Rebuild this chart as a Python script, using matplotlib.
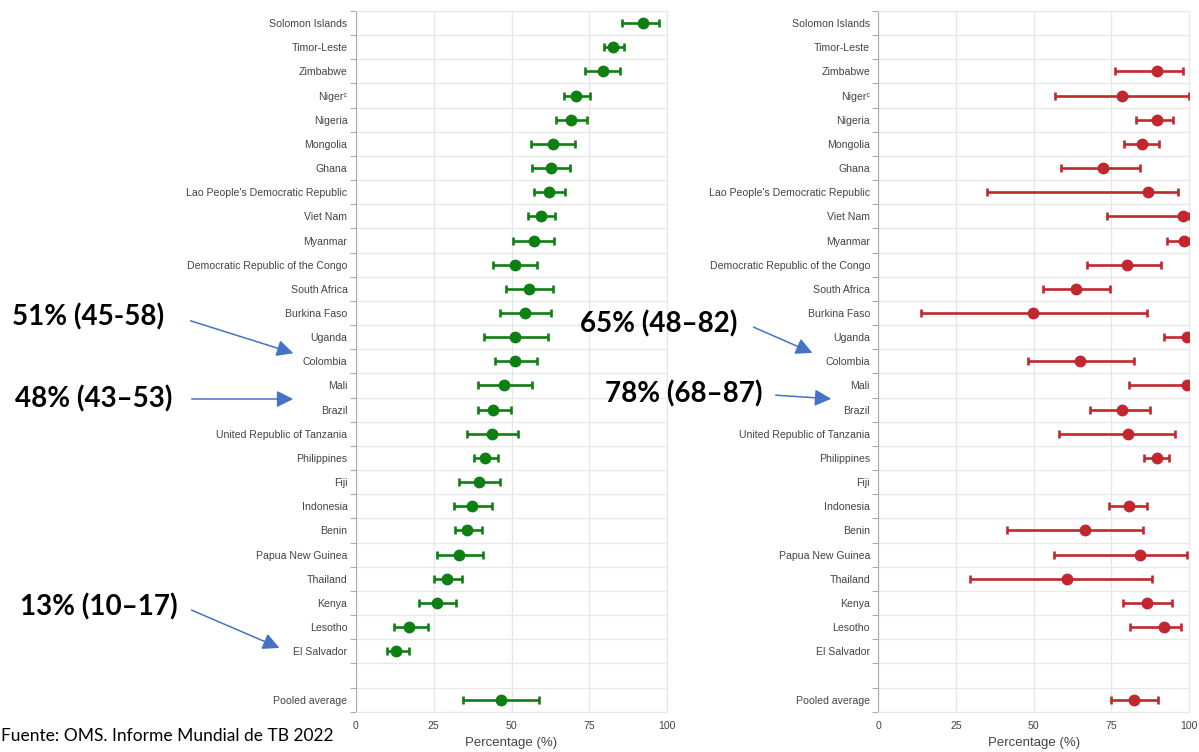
import numpy as np
import matplotlib.pyplot as plt
from matplotlib.ticker import FixedLocator
from matplotlib.patches import FancyArrowPatch

nan = np.nan

countries = ["Solomon Islands", "Timor-Leste", "Zimbabwe", "Niger\u1d9c", "Nigeria", "Mongolia",
             "Ghana", "Lao People's Democratic Republic", "Viet Nam", "Myanmar",
             "Democratic Republic of the Congo", "South Africa", "Burkina Faso", "Uganda",
             "Colombia", "Mali", "Brazil", "United Republic of Tanzania", "Philippines", "Fiji",
             "Indonesia", "Benin", "Papua New Guinea", "Thailand", "Kenya", "Lesotho",
             "El Salvador", "", "Pooled average"]

# left panel (green)
g_val = [92.1, 82.7, 79.3, 70.7, 69.1, 63.2, 62.7, 62.1, 59.5, 57.2, 51.1, 55.7, 54.3, 51.1,
         51.1, 47.6, 44.2, 43.6, 41.5, 39.6, 37.4, 35.8, 33.2, 29.2, 26.0, 17.1, 12.9, nan, 46.5]
g_lo = [85.4, 79.8, 73.6, 66.8, 64.2, 56.3, 56.5, 57.3, 55.2, 50.6, 44.2, 48.1, 46.3, 41.0,
        44.7, 39.1, 39.1, 35.6, 38.1, 33.2, 31.5, 31.9, 26.2, 25.1, 20.4, 12.4, 9.9, nan, 34.3]
g_hi = [97.3, 86.2, 84.8, 75.2, 74.1, 70.2, 68.8, 67.2, 64.0, 63.7, 58.3, 63.4, 62.6, 61.6,
        58.1, 56.7, 49.7, 52.2, 45.5, 46.3, 43.8, 40.4, 40.7, 34.2, 32.1, 23.1, 17.2, nan, 58.9]

# right panel (red)
r_val = [nan, nan, 89.6, 78.5, 89.6, 84.8, 72.4, 86.9, 98.2, 98.4, 80.2, 63.8, 49.9, 99.5,
         64.9, 99.5, 78.3, 80.3, 89.6, nan, 80.7, 66.5, 84.4, 60.9, 86.4, 92.0, nan, nan, 82.3]
r_lo = [nan, nan, 76.2, 56.9, 82.9, 79.1, 58.7, 34.9, 73.5, 93.1, 67.1, 53.1, 13.6, 92.0,
        48.3, 80.8, 68.1, 58.3, 85.5, nan, 74.2, 41.5, 56.5, 29.5, 78.9, 81.0, nan, nan, 74.9]
r_hi = [nan, nan, 98.0, 100, 95.0, 90.3, 84.4, 96.4, 100, 100, 91.0, 74.6, 86.6, 100,
        82.4, 100, 87.4, 95.5, 93.6, nan, 86.6, 85.1, 99.5, 88.2, 94.4, 97.4, nan, nan, 90.1]

xticks = [0, 25, 50, 75, 100]

fig = plt.figure(figsize=(11.99, 7.52), dpi=100)
ax1 = fig.add_axes([0.2967, 0.0536, 0.2599, 0.9318])
ax2 = fig.add_axes([0.7325, 0.0536, 0.2591, 0.9318])

pos = np.arange(len(countries))
grid_c = '#e8e8e8'
lab_font = ['Liberation Sans', 'DejaVu Sans']

for ax, val, lo, hi, col in [(ax1, g_val, g_lo, g_hi, '#0e7f12'), (ax2, r_val, r_lo, r_hi, '#c1272d')]:
    v = np.array(val, dtype=float)
    err = [v - np.array(lo, dtype=float), np.array(hi, dtype=float) - v]
    ax.errorbar(v, pos, xerr=err, fmt='o', color=col, ms=7.5, lw=1.9,
                capsize=3, capthick=1.9, zorder=3)
    ax.set_xlim(0, 100)
    ax.set_ylim(len(countries) - 0.5, -0.5)
    ax.set_xticks(xticks)
    ax.set_yticks(pos)
    ax.set_yticklabels(countries, fontsize=7.6, color='#444444', family=lab_font)
    ax.yaxis.set_minor_locator(FixedLocator(np.arange(-0.5, len(countries), 1)))
    ax.tick_params(axis='y', which='major', length=0, pad=6)
    ax.tick_params(axis='y', which='minor', length=4, color='#aaaaaa', width=0.8)
    ax.tick_params(axis='x', length=0, pad=7, labelsize=7.6, labelcolor='#444444')
    for t in ax.get_xticklabels():
        t.set_family(lab_font)
    ax.grid(True, which='minor', axis='y', color=grid_c, lw=1)
    ax.grid(True, which='major', axis='x', color=grid_c, lw=1)
    ax.set_axisbelow(True)
    for s in ['top', 'right', 'bottom']:
        ax.spines[s].set_color(grid_c)
    ax.spines['left'].set_color('#aaaaaa')
    ax.set_xlabel('Percentage (%)', fontsize=9.5, color='#444444', family=lab_font, labelpad=4)

# annotations (figure pixel coordinates, y from the bottom)
H = 752
notes = [("51% (45-58)", 12, 317, (188, 320), (296, 354)),
         ("48% (43\u201353)", 15, 399, (189, 399), (296, 399)),
         ("13% (10\u201317)", 20, 607, (189, 609), (282, 649)),
         ("65% (48\u201382)", 580, 324, (751, 326), (815, 354)),
         ("78% (68\u201387)", 605, 394, (773, 395), (834, 399))]
for txt, tx, ty, p0, p1 in notes:
    fig.text(tx / 1199, (H - ty) / H, txt, fontsize=20, fontweight='bold', family='Lato',
             ha='left', va='center', color='black')
    fig.add_artist(FancyArrowPatch(
        (p0[0], H - p0[1]), (p1[0], H - p1[1]), transform=None,
        arrowstyle='-|>,head_length=10,head_width=5', color='#4472c4', lw=1.1,
        mutation_scale=1))

fig.text(0.001, (H - 736) / H, "Fuente: OMS. Informe Mundial de TB 2022", fontsize=12.5,
         family='Lato', ha='left', va='center', color='black')

fig.savefig('out.png', dpi=100)
